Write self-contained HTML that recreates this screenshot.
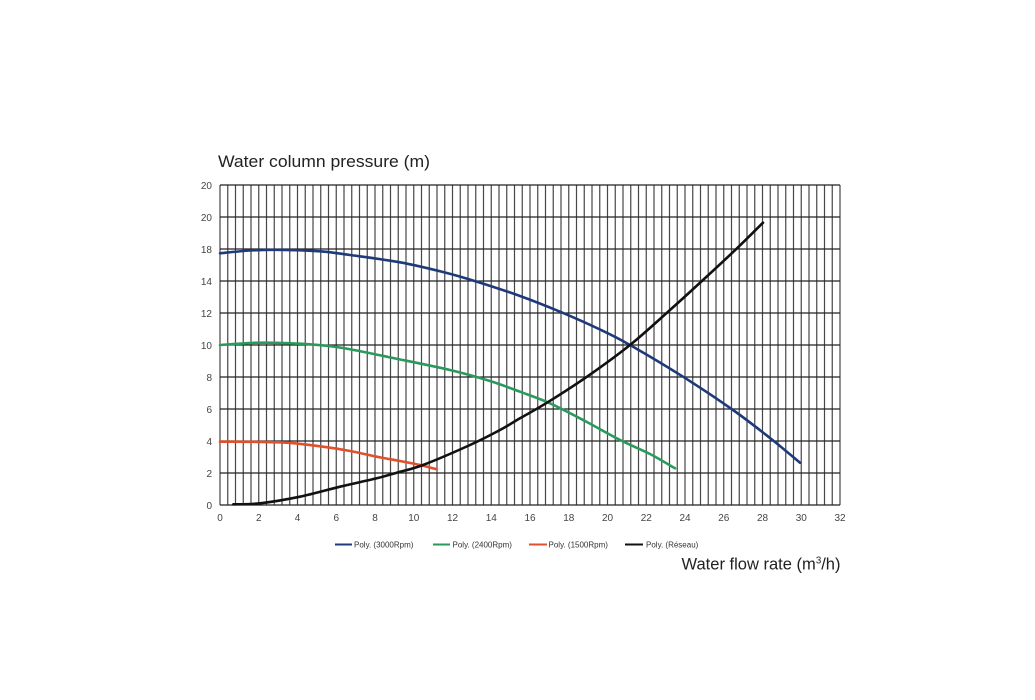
<!DOCTYPE html>
<html>
<head>
<meta charset="utf-8">
<style>
html,body{margin:0;padding:0;background:#fff;}
svg{display:block;}
</style>
</head>
<body>
<svg id="chart" width="1035" height="700" viewBox="0 0 1035 700" xmlns="http://www.w3.org/2000/svg" font-family="Liberation Sans, sans-serif">
<rect width="1035" height="700" fill="#fff"/>
<text x="218" y="167" font-size="17" fill="#222" textLength="212" lengthAdjust="spacingAndGlyphs">Water column pressure (m)</text>
<g stroke="#474747" stroke-width="1.2">
<line x1="220.00" y1="185" x2="220.00" y2="505"/><line x1="227.75" y1="185" x2="227.75" y2="505"/><line x1="235.50" y1="185" x2="235.50" y2="505"/><line x1="243.25" y1="185" x2="243.25" y2="505"/><line x1="251.00" y1="185" x2="251.00" y2="505"/><line x1="258.75" y1="185" x2="258.75" y2="505"/><line x1="266.50" y1="185" x2="266.50" y2="505"/><line x1="274.25" y1="185" x2="274.25" y2="505"/><line x1="282.00" y1="185" x2="282.00" y2="505"/><line x1="289.75" y1="185" x2="289.75" y2="505"/><line x1="297.50" y1="185" x2="297.50" y2="505"/><line x1="305.25" y1="185" x2="305.25" y2="505"/><line x1="313.00" y1="185" x2="313.00" y2="505"/><line x1="320.75" y1="185" x2="320.75" y2="505"/><line x1="328.50" y1="185" x2="328.50" y2="505"/><line x1="336.25" y1="185" x2="336.25" y2="505"/><line x1="344.00" y1="185" x2="344.00" y2="505"/><line x1="351.75" y1="185" x2="351.75" y2="505"/><line x1="359.50" y1="185" x2="359.50" y2="505"/><line x1="367.25" y1="185" x2="367.25" y2="505"/><line x1="375.00" y1="185" x2="375.00" y2="505"/><line x1="382.75" y1="185" x2="382.75" y2="505"/><line x1="390.50" y1="185" x2="390.50" y2="505"/><line x1="398.25" y1="185" x2="398.25" y2="505"/><line x1="406.00" y1="185" x2="406.00" y2="505"/><line x1="413.75" y1="185" x2="413.75" y2="505"/><line x1="421.50" y1="185" x2="421.50" y2="505"/><line x1="429.25" y1="185" x2="429.25" y2="505"/><line x1="437.00" y1="185" x2="437.00" y2="505"/><line x1="444.75" y1="185" x2="444.75" y2="505"/><line x1="452.50" y1="185" x2="452.50" y2="505"/><line x1="460.25" y1="185" x2="460.25" y2="505"/><line x1="468.00" y1="185" x2="468.00" y2="505"/><line x1="475.75" y1="185" x2="475.75" y2="505"/><line x1="483.50" y1="185" x2="483.50" y2="505"/><line x1="491.25" y1="185" x2="491.25" y2="505"/><line x1="499.00" y1="185" x2="499.00" y2="505"/><line x1="506.75" y1="185" x2="506.75" y2="505"/><line x1="514.50" y1="185" x2="514.50" y2="505"/><line x1="522.25" y1="185" x2="522.25" y2="505"/><line x1="530.00" y1="185" x2="530.00" y2="505"/><line x1="537.75" y1="185" x2="537.75" y2="505"/><line x1="545.50" y1="185" x2="545.50" y2="505"/><line x1="553.25" y1="185" x2="553.25" y2="505"/><line x1="561.00" y1="185" x2="561.00" y2="505"/><line x1="568.75" y1="185" x2="568.75" y2="505"/><line x1="576.50" y1="185" x2="576.50" y2="505"/><line x1="584.25" y1="185" x2="584.25" y2="505"/><line x1="592.00" y1="185" x2="592.00" y2="505"/><line x1="599.75" y1="185" x2="599.75" y2="505"/><line x1="607.50" y1="185" x2="607.50" y2="505"/><line x1="615.25" y1="185" x2="615.25" y2="505"/><line x1="623.00" y1="185" x2="623.00" y2="505"/><line x1="630.75" y1="185" x2="630.75" y2="505"/><line x1="638.50" y1="185" x2="638.50" y2="505"/><line x1="646.25" y1="185" x2="646.25" y2="505"/><line x1="654.00" y1="185" x2="654.00" y2="505"/><line x1="661.75" y1="185" x2="661.75" y2="505"/><line x1="669.50" y1="185" x2="669.50" y2="505"/><line x1="677.25" y1="185" x2="677.25" y2="505"/><line x1="685.00" y1="185" x2="685.00" y2="505"/><line x1="692.75" y1="185" x2="692.75" y2="505"/><line x1="700.50" y1="185" x2="700.50" y2="505"/><line x1="708.25" y1="185" x2="708.25" y2="505"/><line x1="716.00" y1="185" x2="716.00" y2="505"/><line x1="723.75" y1="185" x2="723.75" y2="505"/><line x1="731.50" y1="185" x2="731.50" y2="505"/><line x1="739.25" y1="185" x2="739.25" y2="505"/><line x1="747.00" y1="185" x2="747.00" y2="505"/><line x1="754.75" y1="185" x2="754.75" y2="505"/><line x1="762.50" y1="185" x2="762.50" y2="505"/><line x1="770.25" y1="185" x2="770.25" y2="505"/><line x1="778.00" y1="185" x2="778.00" y2="505"/><line x1="785.75" y1="185" x2="785.75" y2="505"/><line x1="793.50" y1="185" x2="793.50" y2="505"/><line x1="801.25" y1="185" x2="801.25" y2="505"/><line x1="809.00" y1="185" x2="809.00" y2="505"/><line x1="816.75" y1="185" x2="816.75" y2="505"/><line x1="824.50" y1="185" x2="824.50" y2="505"/><line x1="832.25" y1="185" x2="832.25" y2="505"/><line x1="840.00" y1="185" x2="840.00" y2="505"/>
</g>
<g stroke="#222" stroke-width="1.2">
<line x1="220" y1="185" x2="840" y2="185"/><line x1="220" y1="217" x2="840" y2="217"/><line x1="220" y1="249" x2="840" y2="249"/><line x1="220" y1="281" x2="840" y2="281"/><line x1="220" y1="313" x2="840" y2="313"/><line x1="220" y1="345" x2="840" y2="345"/><line x1="220" y1="377" x2="840" y2="377"/><line x1="220" y1="409" x2="840" y2="409"/><line x1="220" y1="441" x2="840" y2="441"/><line x1="220" y1="473" x2="840" y2="473"/><line x1="220" y1="505" x2="840" y2="505"/>
</g>
<g font-size="10" fill="#444" text-anchor="end">
<text x="212" y="189">20</text><text x="212" y="221">20</text><text x="212" y="253">18</text><text x="212" y="285">14</text><text x="212" y="317">12</text><text x="212" y="349">10</text><text x="212" y="381">8</text><text x="212" y="413">6</text><text x="212" y="445">4</text><text x="212" y="477">2</text><text x="212" y="509">0</text>
</g>
<g font-size="10" fill="#444" text-anchor="middle">
<text x="220" y="521">0</text><text x="258.75" y="521">2</text><text x="297.5" y="521">4</text><text x="336.25" y="521">6</text><text x="375" y="521">8</text><text x="413.75" y="521">10</text><text x="452.5" y="521">12</text><text x="491.25" y="521">14</text><text x="530" y="521">16</text><text x="568.75" y="521">18</text><text x="607.5" y="521">20</text><text x="646.25" y="521">22</text><text x="685" y="521">24</text><text x="723.75" y="521">26</text><text x="762.5" y="521">28</text><text x="801.25" y="521">30</text><text x="840" y="521">32</text>
</g>
<g id="curves" fill="none" stroke-width="2.6" stroke-linejoin="round" stroke-linecap="round">
<polyline stroke="#1f3a7a" points="220,253.3 250,250.5 277,249.8 320,251.3 350,255 400,262.3 443,272 477,281.7 520,296 560,311.7 600,329.5 630,345 683,376.7 733,410 770,438 800,462.7"/>
<polyline stroke="#2a9a5c" points="220,345 245,343.3 267,342.7 310,344.3 343,348 393,358 450,370 490,381 520,391.7 550,403.3 585,421 620,440 650,454 675,468.3"/>
<polyline stroke="#e0502a" points="220,441.7 250,441.8 286.7,442.7 323,446.7 350,451 376.7,456.7 400,461 420,465 436.7,469.3"/>
<polyline stroke="#111" points="233.3,504.3 260,503.3 300,496.7 340,486.7 376.7,478.3 396.7,472.7 423,465 470,445 500,430 520,418.3 547,402.7 587,376.7 630,345 670,310 703,280 737,248.3 763,222.7"/>
</g>
<g font-size="8" fill="#333">
<line x1="335" y1="544.5" x2="352" y2="544.5" stroke="#1f3a7a" stroke-width="2"/>
<text x="354" y="547.5">Poly. (3000Rpm)</text>
<line x1="433" y1="544.5" x2="450" y2="544.5" stroke="#2a9a5c" stroke-width="2"/>
<text x="452.5" y="547.5">Poly. (2400Rpm)</text>
<line x1="529" y1="544.5" x2="547" y2="544.5" stroke="#e0502a" stroke-width="2"/>
<text x="548.5" y="547.5">Poly. (1500Rpm)</text>
<line x1="625" y1="544.5" x2="643" y2="544.5" stroke="#111" stroke-width="2"/>
<text x="646" y="547.5">Poly. (Réseau)</text>
</g>
<text x="681.5" y="569.5" font-size="17" fill="#222" textLength="159" lengthAdjust="spacingAndGlyphs">Water flow rate (m<tspan font-size="10" dy="-6">3</tspan><tspan dy="6">/h)</tspan></text>
</svg>
<script>
(function(){
  var ns="http://www.w3.org/2000/svg";
  var pls=document.querySelectorAll("#curves polyline");
  for(var k=0;k<pls.length;k++){
    var pl=pls[k];
    var pts=pl.getAttribute("points").trim().split(/\s+/).map(function(s){var a=s.split(",");return [parseFloat(a[0]),parseFloat(a[1])];});
    var d="M"+pts[0][0]+","+pts[0][1];
    for(var i=0;i<pts.length-1;i++){
      var p0=pts[i>0?i-1:i],p1=pts[i],p2=pts[i+1],p3=pts[i+2<pts.length?i+2:i+1];
      var c1x=p1[0]+(p2[0]-p0[0])/6,c1y=p1[1]+(p2[1]-p0[1])/6;
      var c2x=p2[0]-(p3[0]-p1[0])/6,c2y=p2[1]-(p3[1]-p1[1])/6;
      d+=" C"+c1x.toFixed(2)+","+c1y.toFixed(2)+" "+c2x.toFixed(2)+","+c2y.toFixed(2)+" "+p2[0]+","+p2[1];
    }
    var path=document.createElementNS(ns,"path");
    path.setAttribute("d",d);
    path.setAttribute("stroke",pl.getAttribute("stroke"));
    pl.parentNode.replaceChild(path,pl);
  }
})();
</script>
</body>
</html>
